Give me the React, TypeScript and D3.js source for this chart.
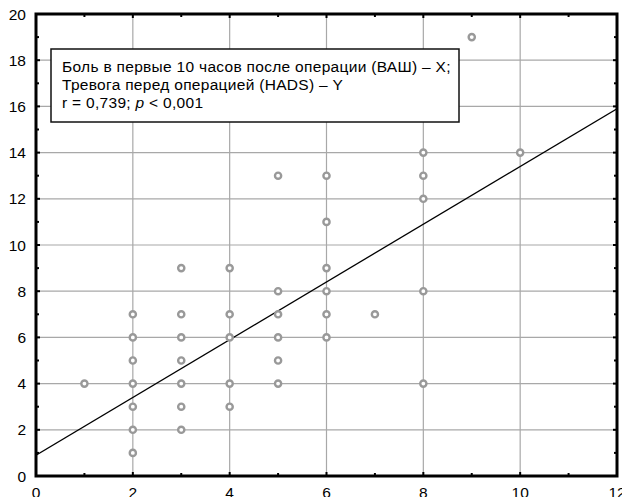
import React, { useEffect, useRef } from "react";
import * as d3 from "d3";

// pain score (VAS) in the first 10 hours after surgery
const painX = [1, 2, 2, 2, 2, 2, 2, 2, 3, 3, 3, 3, 3, 3, 3, 4, 4, 4, 4, 4, 5, 5, 5, 5, 5, 5, 6, 6, 6, 6, 6, 6, 7, 8, 8, 8, 8, 8, 9, 10];
// pre-op anxiety (HADS)
const anxietyY = [4, 1, 2, 3, 4, 5, 6, 7, 2, 3, 4, 5, 6, 7, 9, 3, 4, 6, 7, 9, 4, 5, 6, 7, 8, 13, 6, 7, 8, 9, 11, 13, 7, 4, 8, 12, 13, 14, 19, 14];

const xTicks = [0, 2, 4, 6, 8, 10, 12];
const yTicks = [0, 2, 4, 6, 8, 10, 12, 14, 16, 18, 20];
const fitIntercept = 0.9;
const fitSlope = 1.25;
const legendLines = [
  "Боль в первые 10 часов после операции (ВАШ) – X;",
  "Тревога перед операцией (HADS) – Y",
];

export default function App() {
  const ref = useRef<SVGSVGElement>(null);

  useEffect(() => {
    const svg = d3.select(ref.current);
    svg.selectAll("*").remove();

    const width = 622;
    const height = 497;
    const font = "'Liberation Sans', Arial, sans-serif";

    const x = d3.scaleLinear().domain([0, 12]).range([36, 617]);
    const y = d3.scaleLinear().domain([0, 20]).range([476, 14]);

    svg.attr("width", width).attr("height", height);
    svg.append("rect").attr("width", width).attr("height", height).attr("fill", "#fff");

    // grid
    svg.append("g")
      .selectAll("line.vx")
      .data(xTicks.slice(1, -1))
      .enter()
      .append("line")
      .attr("x1", d => x(d)).attr("x2", d => x(d))
      .attr("y1", y(0)).attr("y2", y(20))
      .attr("stroke", "#a8a8a8").attr("stroke-width", 1.2);

    svg.append("g")
      .selectAll("line.hy")
      .data(yTicks.slice(1, -1))
      .enter()
      .append("line")
      .attr("x1", x(0)).attr("x2", x(12))
      .attr("y1", d => y(d)).attr("y2", d => y(d))
      .attr("stroke", "#a8a8a8").attr("stroke-width", 1.2);

    // regression line
    svg.append("defs").append("clipPath").attr("id", "plotclip")
      .append("rect")
      .attr("x", x(0)).attr("y", y(20))
      .attr("width", x(12) - x(0)).attr("height", y(0) - y(20));

    const line = d3.line<number>()
      .x(d => x(d))
      .y(d => y(fitIntercept + fitSlope * d));

    svg.append("path")
      .datum([0, 12])
      .attr("clip-path", "url(#plotclip)")
      .attr("fill", "none")
      .attr("stroke", "#000")
      .attr("stroke-width", 1.3)
      .attr("d", line);

    // points
    svg.append("g")
      .selectAll("circle")
      .data(painX.map((v, i) => [v, anxietyY[i]]))
      .enter()
      .append("circle")
      .attr("cx", d => x(d[0]))
      .attr("cy", d => y(d[1]))
      .attr("r", 3.1)
      .attr("fill", "#fff")
      .attr("stroke", "#999")
      .attr("stroke-width", 2.4);

    // frame
    svg.append("rect")
      .attr("x", x(0)).attr("y", y(20))
      .attr("width", x(12) - x(0)).attr("height", y(0) - y(20))
      .attr("fill", "none")
      .attr("stroke", "#000")
      .attr("stroke-width", 3);

    // ticks on the frame
    const minorX = d3.range(0, 12.01, 1);
    const minorY = d3.range(0, 20.01, 1);
    const tk = svg.append("g").attr("stroke", "#000").attr("stroke-width", 2);
    minorX.forEach(v => {
      const len = v % 2 === 0 ? 4 : 3;
      tk.append("line").attr("x1", x(v)).attr("x2", x(v)).attr("y1", y(0)).attr("y2", y(0) - len);
      tk.append("line").attr("x1", x(v)).attr("x2", x(v)).attr("y1", y(20)).attr("y2", y(20) + len);
    });
    minorY.forEach(v => {
      const len = v % 2 === 0 ? 4 : 3;
      tk.append("line").attr("y1", y(v)).attr("y2", y(v)).attr("x1", x(0)).attr("x2", x(0) + len);
      tk.append("line").attr("y1", y(v)).attr("y2", y(v)).attr("x1", x(12)).attr("x2", x(12) - len);
    });

    // tick labels
    svg.append("g")
      .selectAll("text")
      .data(yTicks)
      .enter()
      .append("text")
      .attr("x", 26)
      .attr("y", d => y(d) + 5.5)
      .attr("text-anchor", "end")
      .attr("font-family", font)
      .attr("font-size", 15.5)
      .attr("fill", "#000")
      .text(d => d);

    svg.append("g")
      .selectAll("text")
      .data(xTicks)
      .enter()
      .append("text")
      .attr("x", d => x(d))
      .attr("y", 498)
      .attr("text-anchor", "middle")
      .attr("font-family", font)
      .attr("font-size", 15.5)
      .attr("fill", "#000")
      .text(d => d);

    // legend box
    svg.append("rect")
      .attr("x", 51).attr("y", 49)
      .attr("width", 408).attr("height", 73)
      .attr("fill", "#fff")
      .attr("stroke", "#111")
      .attr("stroke-width", 1.5);

    const lg = svg.append("g")
      .attr("font-family", font)
      .attr("font-size", 15.5)
      .attr("letter-spacing", 0.3)
      .attr("fill", "#000");
    legendLines.forEach((t, i) => {
      lg.append("text").attr("x", 62).attr("y", 72 + i * 18).text(t);
    });
    const stat = lg.append("text").attr("x", 62).attr("y", 108);
    stat.append("tspan").text("r = 0,739; ");
    stat.append("tspan").attr("font-style", "italic").text("p");
    stat.append("tspan").text(" < 0,001");
  }, []);

  return <svg ref={ref} style={{ position: "absolute", left: 0, top: 0 }}></svg>;
}
